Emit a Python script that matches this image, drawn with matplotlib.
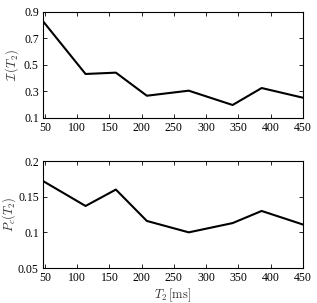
import matplotlib
matplotlib.use("Agg")
import matplotlib.pyplot as plt

plt.rcParams['font.family'] = ['Liberation Serif', 'DejaVu Serif']
plt.rcParams['mathtext.fontset'] = 'cm'

t2 = [47, 113, 160, 208, 273, 341, 386, 450]
info = [0.83, 0.432, 0.442, 0.268, 0.306, 0.198, 0.326, 0.253]
pc = [0.172, 0.137, 0.160, 0.116, 0.100, 0.113, 0.130, 0.111]

xticks = [50, 100, 150, 200, 250, 300, 350, 400, 450]
yticks_top = [0.1, 0.3, 0.5, 0.7, 0.9]
yticks_bot = [0.05, 0.1, 0.15, 0.2]

fig = plt.figure(figsize=(3.17, 3.03), dpi=100)
ax1 = fig.add_axes([0.1356, 0.6106, 0.820, 0.350])
ax2 = fig.add_axes([0.1356, 0.1155, 0.820, 0.353])

for ax in (ax1, ax2):
    ax.set_xlim(47, 450)
    ax.set_xticks(xticks)
    ax.set_xticklabels([str(v) for v in xticks])
    ax.tick_params(direction='in', top=True, right=True, labelsize=8.5, length=3, width=0.6, pad=3)
    for s in ax.spines.values():
        s.set_linewidth(0.8)

ax1.plot(t2, info, color='black', lw=1.5)
ax1.set_ylim(0.1, 0.9)
ax1.set_yticks(yticks_top)
ax1.set_yticklabels(['0.1', '0.3', '0.5', '0.7', '0.9'])
ax1.set_ylabel(r'$\mathcal{I}\,(T_2)$', fontsize=9, color='#333333')
ax1.yaxis.set_label_coords(-0.085, 0.5)

ax2.plot(t2, pc, color='black', lw=1.5)
ax2.set_ylim(0.05, 0.2)
ax2.set_yticks(yticks_bot)
ax2.set_yticklabels(['0.05', '0.1', '0.15', '0.2'])
ax2.set_ylabel(r'$P_c(T_2)$', fontsize=9, color='#333333')
ax2.yaxis.set_label_coords(-0.095, 0.5)
ax2.set_xlabel(r'$T_2\,[\mathrm{ms}]$', fontsize=9, color='#333333')
ax2.xaxis.set_label_coords(0.5, -0.17)

fig.savefig('out.png', dpi=100)
